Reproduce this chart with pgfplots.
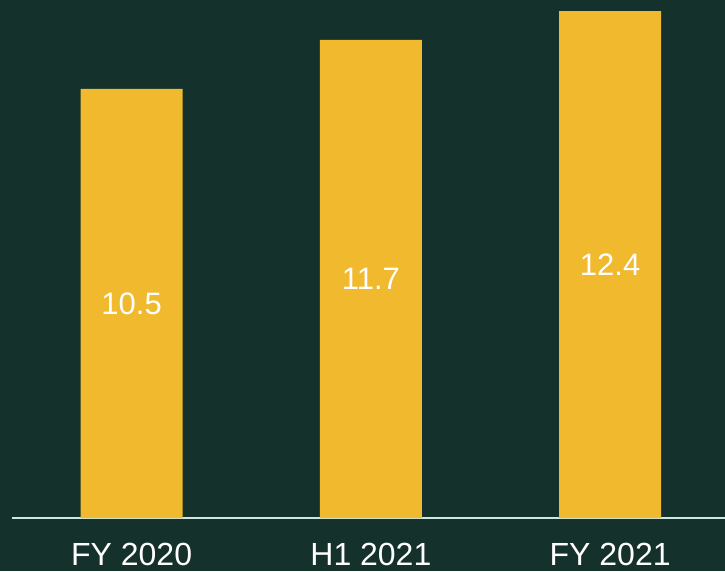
\documentclass[border=0pt]{standalone}
\usepackage{pgfplots}
\pgfplotsset{compat=1.18}
\usepackage{fontspec}
\setmainfont{Liberation Sans}
\definecolor{bg}{HTML}{14312B}
\definecolor{bargold}{HTML}{F0B92E}
\definecolor{axisline}{HTML}{CDE8DE}
\begin{document}
\begin{tikzpicture}
\fill[bg] (0,0) rectangle (725pt,571pt);
\begin{axis}[
  at={(12pt,53pt)}, anchor=south west,
  scale only axis,
  width=713pt, height=518pt,
  xmin=-0.5, xmax=2.48,
  ymin=0, ymax=12.674,
  axis x line*=bottom,
  axis y line=none,
  x axis line style={draw=axisline, line width=2pt},
  xtick={0,1,2},
  xticklabels={FY 2020, H1 2021, FY 2021},
  major tick length=0pt,
  xticklabel style={anchor=base, yshift=-47pt, inner sep=0pt, text=white, font=\fontsize{32}{32}\selectfont},
  clip=false,
]
\addplot[ybar, bar width=102pt, bar shift=0pt, fill=bargold, draw=none] coordinates {(0,10.5) (1,11.7) (2,12.4)};
\addplot[only marks, mark=none, nodes near coords, point meta=explicit symbolic,
  every node near coord/.style={anchor=center, text=white, font=\fontsize{31}{31}\selectfont, inner sep=0pt}]
  coordinates {(0,5.25)[10.5] (1,5.85)[11.7] (2,6.2)[12.4]};
\end{axis}
\pgfresetboundingbox
\useasboundingbox (0,0) rectangle (725pt,571pt);
\end{tikzpicture}
\end{document}
